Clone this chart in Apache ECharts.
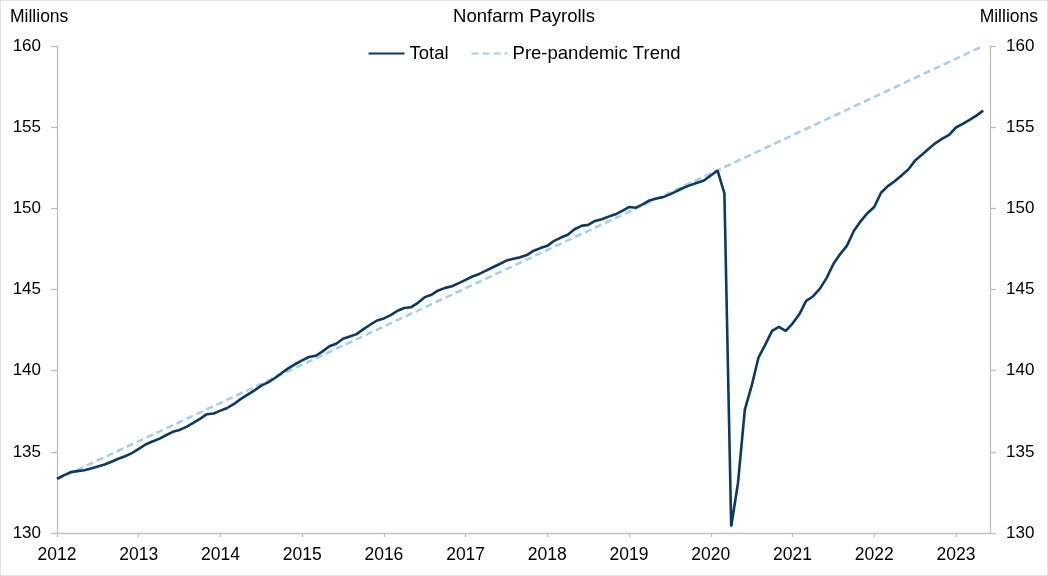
<!DOCTYPE html>
<html>
<head>
<meta charset="utf-8">
<script src="https://cdn.jsdelivr.net/npm/echarts@6/dist/echarts.min.js"></script>
<style>
html,body{margin:0;padding:0;background:#fff;}
#chart{width:1048px;height:576px;box-sizing:border-box;border:1px solid #e3e3e3;}
</style>
</head>
<body>
<div id="chart"></div>
<script>
// ---- data ----
const years = [2012,2013,2014,2015,2016,2017,2018,2019,2020,2021,2022,2023];
const monthNames = ['Jan','Feb','Mar','Apr','May','Jun','Jul','Aug','Sep','Oct','Nov','Dec'];
const lastMonthOfAxis = 6; // axis runs through Jun 2023
const yTicks = [130,135,140,145,150,155,160];

// Total nonfarm payrolls, millions, Jan 2012 - May 2023
const total = [
  133.34,133.55,133.75,133.81,133.87,133.98,134.10,134.22,134.39,134.57,134.73,134.92,
  135.18,135.45,135.64,135.80,136.02,136.23,136.35,136.54,136.78,137.03,137.32,137.36,
  137.54,137.70,137.95,138.26,138.52,138.79,139.08,139.28,139.55,139.86,140.16,140.41,
  140.63,140.84,140.92,141.19,141.50,141.66,141.97,142.11,142.25,142.56,142.83,143.09,
  143.22,143.42,143.69,143.86,143.91,144.18,144.53,144.68,144.94,145.10,145.20,145.39,
  145.59,145.80,145.96,146.16,146.37,146.57,146.78,146.90,146.98,147.12,147.39,147.55,
  147.69,148.00,148.20,148.37,148.71,148.92,148.98,149.22,149.33,149.49,149.63,149.84,
  150.08,150.04,150.24,150.49,150.61,150.69,150.86,151.06,151.27,151.43,151.57,151.71,
  152.02,152.33,150.92,130.40,133.10,137.60,139.06,140.80,141.60,142.45,142.70,142.45,
  142.90,143.47,144.30,144.57,145.04,145.70,146.57,147.18,147.70,148.60,149.20,149.70,
  150.08,150.96,151.37,151.67,152.02,152.39,152.94,153.30,153.67,154.02,154.29,154.53,
  154.98,155.20,155.45,155.71,156.02
];

// Pre-pandemic trend: straight line, endpoints (Jan 2012 and May 2023)
const trendStartMonth = 'Jan 2012', trendStartValue = 133.3;
const trendEndMonth = 'May 2023', trendEndValue = 160.0;

// ---- build categories ----
const months = [];
years.forEach(y => {
  const n = (y === years[years.length-1]) ? lastMonthOfAxis : 12;
  for (let m = 0; m < n; m++) months.push(monthNames[m] + ' ' + y);
});
const trend = [[trendStartMonth, trendStartValue],[trendEndMonth, trendEndValue]];

const font = 'Liberation Sans, Arial, sans-serif';
const axisGray = '#bfbfbf';

const chart = echarts.init(document.getElementById('chart'), null, {renderer:'canvas'});
const yAxisCommon = {
  type:'value', min:yTicks[0], max:yTicks[yTicks.length-1], interval:5,
  splitLine:{show:false},
  axisLine:{show:true, lineStyle:{color:axisGray, width:1.3}},
  axisTick:{show:true, length:6, lineStyle:{color:axisGray, width:1.3}},
  axisLabel:{color:'#000', fontSize:17, fontFamily:font, margin:16}
};
const titleStyle = {fontWeight:'normal', color:'#000', fontFamily:font};
chart.setOption({
  animation:false,
  title:[
    {text:'Millions', left:4, top:2, textStyle:Object.assign({fontSize:17.5}, titleStyle)},
    {text:'Nonfarm Payrolls', left:'center', top:1, textStyle:Object.assign({fontSize:18.5}, titleStyle)},
    {text:'Millions', right:4, top:2, textStyle:Object.assign({fontSize:17.5}, titleStyle)}
  ],
  legend:{
    top:38, left:'center', itemWidth:36, itemHeight:14, itemGap:22,
    itemStyle:{opacity:0},
    textStyle:{fontSize:18.5, color:'#000', fontFamily:font},
    data:['Total','Pre-pandemic Trend']
  },
  grid:{left:56, right:57, top:45, bottom:42, containLabel:false},
  xAxis:{
    type:'category', data:months, boundaryGap:false,
    axisLine:{lineStyle:{color:axisGray, width:1.3}},
    axisTick:{show:true, length:4, interval:(i)=> i % 12 === 0, lineStyle:{color:axisGray, width:1.3}},
    axisLabel:{interval:(i)=> i % 12 === 0, formatter:(v)=> v.split(' ')[1], color:'#000', fontSize:17.5, fontFamily:font, margin:13},
    splitLine:{show:false}
  },
  yAxis:[
    Object.assign({}, yAxisCommon, {position:'left'}),
    Object.assign({}, yAxisCommon, {position:'right'})
  ],
  series:[
    {name:'Pre-pandemic Trend', type:'line', data:trend, symbol:'none', z:2,
     lineStyle:{color:'#a7cff0', width:2.6, type:[7,4]}, itemStyle:{color:'#a7cff0'}},
    {name:'Total', type:'line', data:total, symbol:'none', z:3,
     lineStyle:{color:'#0b3a63', width:2.6}, itemStyle:{color:'#0b3a63'}}
  ]
});
</script>
</body>
</html>
